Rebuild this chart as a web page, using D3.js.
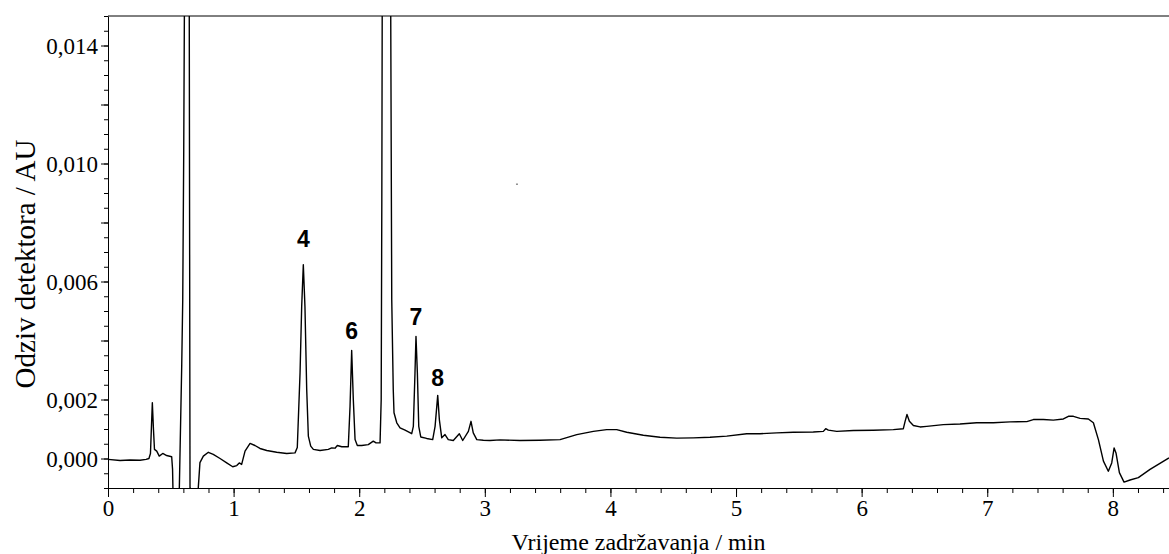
<!DOCTYPE html>
<html>
<head>
<meta charset="utf-8">
<script src="https://cdn.jsdelivr.net/npm/d3@7"></script>
<style>
  html, body { margin: 0; padding: 0; background: #ffffff; }
  svg { display: block; }
  .serif { font-family: "Liberation Serif", "Times New Roman", "DejaVu Serif", serif; }
  .peak { font-family: "Liberation Sans", Arial, sans-serif; font-weight: bold; }
</style>
</head>
<body>
<svg id="chart" width="1169" height="554"></svg>
<script>
// ---- Data ----
// retention time, min
const times = [
  0.000, 0.096, 0.175, 0.255, 0.303, 0.326, 0.338, 0.353, 0.362, 0.370,
  0.388, 0.408, 0.436, 0.467, 0.507, 0.514, 0.518, 0.540, 0.568, 0.587,
  0.595, 0.603, 0.608, 0.625, 0.647, 0.653, 0.680, 0.719, 0.732, 0.759,
  0.799, 0.838, 0.892, 0.945, 0.993, 1.025, 1.045, 1.064, 1.091, 1.131,
  1.170, 1.210, 1.264, 1.343, 1.423, 1.489, 1.507, 1.529, 1.542, 1.555,
  1.568, 1.582, 1.595, 1.614, 1.635, 1.688, 1.754, 1.781, 1.807, 1.826,
  1.861, 1.913, 1.927, 1.940, 1.953, 1.967, 1.985, 2.020, 2.072, 2.112,
  2.134, 2.166, 2.175, 2.180, 2.183, 2.205, 2.251, 2.259, 2.271, 2.277,
  2.299, 2.325, 2.365, 2.418, 2.431, 2.444, 2.452, 2.463, 2.474, 2.490,
  2.537, 2.585, 2.604, 2.625, 2.638, 2.657, 2.683, 2.709, 2.749, 2.797,
  2.824, 2.869, 2.890, 2.908, 2.936, 2.988, 3.041, 3.121, 3.280, 3.439,
  3.599, 3.732, 3.864, 3.970, 4.050, 4.130, 4.262, 4.395, 4.528, 4.660,
  4.793, 4.926, 5.085, 5.191, 5.324, 5.456, 5.615, 5.695, 5.714, 5.735,
  5.802, 5.934, 6.093, 6.252, 6.332, 6.346, 6.361, 6.380, 6.412, 6.465,
  6.518, 6.650, 6.783, 6.916, 7.049, 7.182, 7.315, 7.367, 7.447, 7.526,
  7.606, 7.646, 7.686, 7.739, 7.805, 7.845, 7.885, 7.925, 7.964, 7.991,
  8.010, 8.025, 8.052, 8.089, 8.137, 8.203, 8.296, 8.447
];
// detector response, AU
const absorbance = [
  -0.00003, -0.00007, -0.00005, -0.00006, -0.00003, 0.00000, 0.00017, 0.00189, 0.00098, 0.00031,
  0.00025, 0.00008, 0.00017, 0.00010, 0.00006, -0.00037, -0.00122, -0.00300, -0.00098, 0.00315,
  0.00538, 0.01046, 0.01500, 0.06000, 0.01500, -0.00098, -0.00300, -0.00098, -0.00014, 0.00008,
  0.00021, 0.00014, 0.00000, -0.00015, -0.00028, -0.00024, -0.00015, -0.00020, 0.00025, 0.00051,
  0.00044, 0.00034, 0.00027, 0.00021, 0.00017, 0.00019, 0.00037, 0.00291, 0.00515, 0.00657,
  0.00515, 0.00234, 0.00076, 0.00042, 0.00031, 0.00027, 0.00031, 0.00036, 0.00035, 0.00044,
  0.00040, 0.00040, 0.00177, 0.00366, 0.00200, 0.00064, 0.00044, 0.00044, 0.00047, 0.00059,
  0.00053, 0.00053, 0.00200, 0.00876, 0.01500, 0.08000, 0.01500, 0.00538, 0.00234, 0.00155,
  0.00121, 0.00104, 0.00096, 0.00084, 0.00109, 0.00290, 0.00414, 0.00290, 0.00109, 0.00073,
  0.00068, 0.00064, 0.00109, 0.00214, 0.00132, 0.00070, 0.00081, 0.00064, 0.00061, 0.00084,
  0.00061, 0.00092, 0.00126, 0.00087, 0.00064, 0.00062, 0.00061, 0.00063, 0.00061, 0.00062,
  0.00064, 0.00081, 0.00092, 0.00098, 0.00098, 0.00089, 0.00079, 0.00072, 0.00069, 0.00070,
  0.00072, 0.00076, 0.00084, 0.00084, 0.00087, 0.00089, 0.00090, 0.00092, 0.00101, 0.00096,
  0.00092, 0.00095, 0.00096, 0.00098, 0.00101, 0.00126, 0.00149, 0.00126, 0.00112, 0.00107,
  0.00109, 0.00115, 0.00117, 0.00121, 0.00121, 0.00124, 0.00125, 0.00132, 0.00132, 0.00130,
  0.00134, 0.00143, 0.00143, 0.00136, 0.00134, 0.00121, 0.00064, -0.00009, -0.00043, -0.00015,
  0.00036, 0.00019, -0.00048, -0.00080, -0.00073, -0.00065, -0.00037, 0.00002
];
// numbered peaks
const peakLabels = ["4", "6", "7", "8"];
const peakLabelTimes = [1.555, 1.940, 2.452, 2.625];
const peakLabelValues = [0.00717, 0.00406, 0.00453, 0.00247];
// stray pixel in the original
const artifactTimes = [3.256];
const artifactValues = [0.0093];

// axis settings
const xDomain = [0, 8.447];
const yDomain = [-0.001, 0.015];
const xMajorTicks = [0, 1, 2, 3, 4, 5, 6, 7, 8];
const yLabelTicks = [0, 0.002, 0.006, 0.010, 0.014];
const xTitle = "Vrijeme zadržavanja / min";
const yTitle = "Odziv detektora / AU";

// ---- Drawing ----
const svg = d3.select("#chart");
const mLeft = 108, mRight = 1169, mTop = 16, mBottom = 488;

const x = d3.scaleLinear().domain(xDomain).range([mLeft, mRight]);
const y = d3.scaleLinear().domain(yDomain).range([mBottom, mTop]);

const commaFmt = d3.formatLocale({decimal: ",", thousands: ".", grouping: [3], currency: ["", ""]}).format(".3f");

svg.append("defs").append("clipPath").attr("id", "plotclip")
  .append("rect").attr("x", mLeft).attr("y", mTop).attr("width", mRight - mLeft).attr("height", mBottom - mTop);

// minor ticks
const xMinor = d3.range(0, 43).map(i => i * 0.2).filter(v => v <= xDomain[1] + 1e-9);
const yMinor = d3.range(-2, 31).map(i => i * 0.0005);
const yMajor = d3.range(0, 8).map(i => i * 0.002);

svg.append("g").attr("transform", `translate(0,${mBottom})`)
  .call(d3.axisBottom(x).tickValues(xMinor).tickSize(5).tickSizeOuter(0).tickFormat(""))
  .call(g => g.select(".domain").remove());
svg.append("g").attr("transform", `translate(${mLeft},0)`)
  .call(d3.axisLeft(y).tickValues(yMinor).tickSize(4).tickSizeOuter(0).tickFormat(""))
  .call(g => g.select(".domain").remove());

// major ticks + labels
const xAxis = svg.append("g").attr("transform", `translate(0,${mBottom})`)
  .call(d3.axisBottom(x).tickValues(xMajorTicks).tickSize(9).tickSizeOuter(0).tickPadding(3).tickFormat(d3.format("d")));
const yAxis = svg.append("g").attr("transform", `translate(${mLeft},0)`)
  .call(d3.axisLeft(y).tickValues(yMajor).tickSize(7).tickSizeOuter(0).tickPadding(3)
    .tickFormat(d => yLabelTicks.some(v => Math.abs(v - d) < 1e-9) ? commaFmt(d) : ""));

[xAxis, yAxis].forEach(g => {
  g.attr("font-family", null).attr("font-size", null);
  g.selectAll("text").attr("class", "serif").style("font-size", "23px").attr("fill", "#000");
  g.selectAll("line").attr("stroke", "#000");
  g.select(".domain").attr("stroke", "#000");
});
yAxis.selectAll("text").attr("dy", "0.34em");
svg.selectAll(".tick line").attr("stroke", "#000");

// top frame line
svg.append("line")
  .attr("x1", x(xDomain[0])).attr("x2", x(xDomain[1]))
  .attr("y1", y(yDomain[1])).attr("y2", y(yDomain[1]))
  .attr("stroke", "#000").attr("stroke-width", 1);

// trace
const trace = times.map((t, i) => ({t, v: absorbance[i]}));
svg.append("path")
  .datum(trace)
  .attr("clip-path", "url(#plotclip)")
  .attr("fill", "none")
  .attr("stroke", "#000")
  .attr("stroke-width", 1.4)
  .attr("stroke-linejoin", "round")
  .attr("d", d3.line().x(d => x(d.t)).y(d => y(d.v)));

// artifact
svg.selectAll("rect.artifact")
  .data(artifactTimes.map((t, i) => ({t, v: artifactValues[i]})))
  .join("rect").attr("class", "artifact")
  .attr("x", d => x(d.t) - 1).attr("y", d => y(d.v) - 0.5)
  .attr("width", 2).attr("height", 1).attr("fill", "#555");

// peak labels
svg.selectAll("text.peak")
  .data(peakLabels.map((l, i) => ({l, t: peakLabelTimes[i], v: peakLabelValues[i]})))
  .join("text").attr("class", "peak")
  .attr("x", d => x(d.t)).attr("y", d => y(d.v))
  .attr("text-anchor", "middle")
  .style("font-size", "23px")
  .text(d => d.l);

// axis titles
svg.append("text").attr("class", "serif")
  .attr("x", (mLeft + mRight) / 2).attr("y", 550)
  .attr("text-anchor", "middle")
  .style("font-size", "24px")
  .text(xTitle);
svg.append("text").attr("class", "serif")
  .attr("transform", `translate(35,${(mTop + mBottom) / 2 + 12}) rotate(-90)`)
  .attr("text-anchor", "middle")
  .style("font-size", "29px")
  .text(yTitle);
</script>
</body>
</html>
